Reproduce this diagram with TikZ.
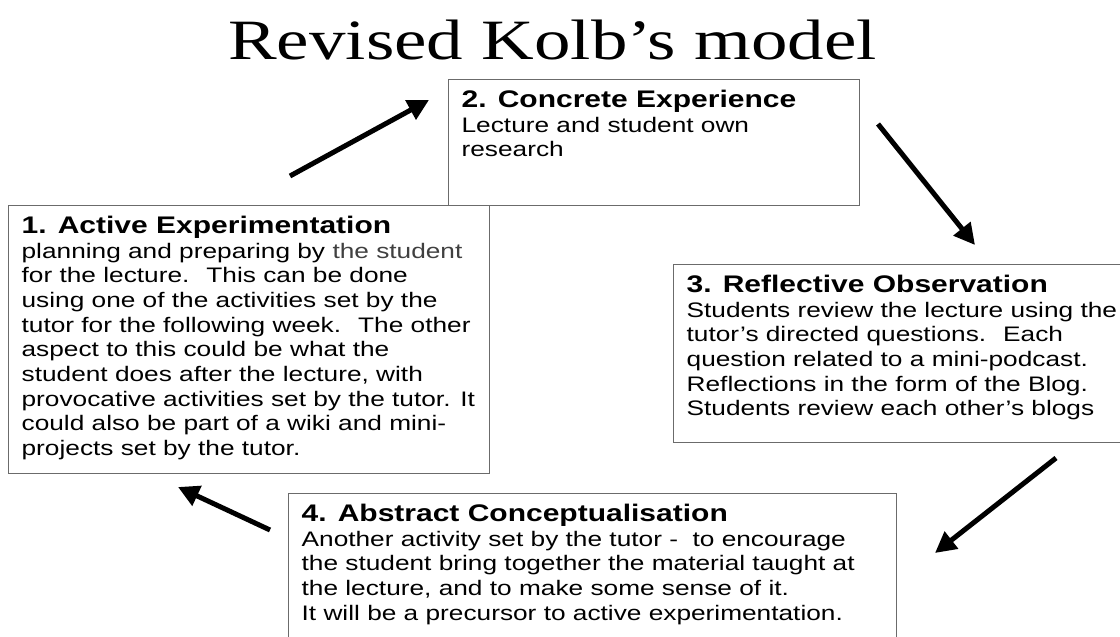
\documentclass[tikz,border=0pt]{standalone}
\usepackage{fontspec}
\usepackage{tikz}
\usetikzlibrary{arrows.meta}
\newfontfamily\boxfont[FakeStretch=1.25]{Liberation Sans}
\newfontfamily\titlefont[FakeStretch=1.28]{Liberation Serif}
\newcommand{\stagetext}[4]{\begin{minipage}[t][#2][t]{#1}\raggedright\rule{0pt}{18.7pt}{\fontsize{24}{26}\bfseries #3\par}#4\end{minipage}}
\tikzset{
	stage/.style={draw=black!58,line width=1.3pt,anchor=north west,inner xsep=13pt,inner ysep=9pt,font=\boxfont\fontsize{21}{24.7}\selectfont},
	flow/.style={line width=5pt,-{Triangle[length=21pt,width=21pt]}},
	heading/.style={font=\titlefont\fontsize{57}{60}\selectfont,anchor=base,inner sep=0pt}
}

\begin{document}
\begin{tikzpicture}[x=1pt,y=-1pt]
	\useasboundingbox (0,0) rectangle (1120,637);
	\clip (0,0) rectangle (1120,637);
	\node [heading] (title) at (552.5,59) {Revised Kolb’s model};

	\node [stage] (ae) at (8,205) {\stagetext{455pt}{250pt}{1. Active Experimentation}{planning and preparing by {\color{black!75}the student}\\
		for the lecture.~ This can be done\\
		using one of the activities set by the\\
		tutor for the following week.~ The other\\
		aspect to this could be what the\\
		student does after the lecture, with\\
		provocative activities set by the tutor. It\\
		could also be part of a wiki and mini-\\
		projects set by the tutor.}};
	\node [stage] (ce) at (448,79) {\stagetext{385pt}{108pt}{2. Concrete Experience}{Lecture and student own\\
		research}};
	\node [stage] (ro) at (673,264) {\stagetext{444pt}{160pt}{3. Reflective Observation}{Students review the lecture using the\\
		tutor’s directed questions.~ Each\\
		question related to a mini-podcast.\\
		Reflections in the form of the Blog.\\
		Students review each other’s blogs}};
	\node [stage] (ac) at (288,493) {\stagetext{582pt}{152pt}{4. Abstract Conceptualisation}{Another activity set by the tutor -~ to encourage\\
		the student bring together the material taught at\\
		the lecture, and to make some sense of it.\\
		It will be a precursor to active experimentation.}};

	\coordinate (ae-out) at (290,176);
	\coordinate (ce-in) at (429,100);
	\coordinate (ce-out) at (878,124);
	\coordinate (ro-in) at (975,245);
	\coordinate (ro-out) at (1056,458);
	\coordinate (ac-in) at (935,553);
	\coordinate (ac-out) at (270,530);
	\coordinate (ae-in) at (178,487);

	\draw [flow] (ae-out) -- (ce-in);
	\draw [flow] (ce-out) -- (ro-in);
	\draw [flow] (ro-out) -- (ac-in);
	\draw [flow] (ac-out) -- (ae-in);
\end{tikzpicture}
\end{document}
